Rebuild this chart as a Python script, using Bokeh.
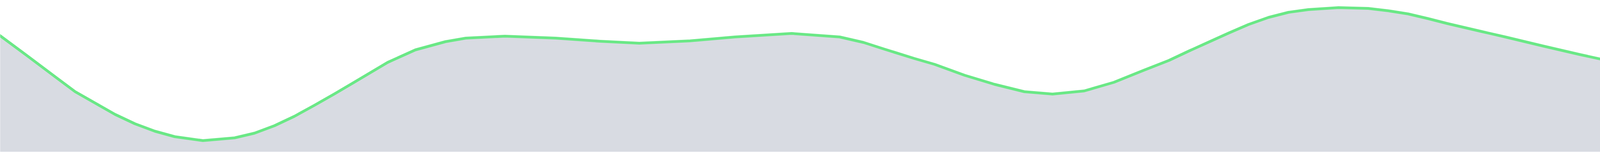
from bokeh.plotting import figure
from bokeh.models import Range1d
from bokeh.embed import file_html
from bokeh.resources import INLINE

# wave profile: x position and depth of the curve from the top edge
# (both in px of the 6004x404 canvas)
xs = [0, 77, 153, 200, 251, 302, 353, 404, 455, 527, 608, 659, 710, 761, 812,
      863, 914, 1000, 1071, 1148, 1200, 1300, 1430, 1544, 1644, 1774, 1889,
      2034, 2157, 2218, 2271, 2348, 2400, 2477, 2553, 2630, 2702, 2783, 2859,
      2936, 3000, 3051, 3102, 3153, 3204, 3255, 3306, 3357, 3434, 3510, 3561,
      3612, 3663, 3714, 3800, 3861, 3957, 4052, 4148, 4244, 4339, 4435, 4500,
      4596, 4740, 4884, 5075, 5267, 5459, 5651, 5843, 6004]
depth = [93, 150, 207, 242, 271, 300, 324, 343, 357, 367, 360, 348, 329, 305, 277,
         248, 218, 167, 135, 114, 105, 100, 105, 113, 118, 112, 102,
         93, 102, 116, 133, 157, 172, 200, 223, 242, 248, 240, 218,
         187, 162, 138, 115, 92, 70, 52, 39, 32, 27, 29, 35,
         43, 55, 68, 88, 102, 125, 147, 168, 188, 207, 220, 226,
         231, 235, 236, 237, 240, 249, 267, 287, 306]
canvas_h = 404
heights = [canvas_h - d for d in depth]

FILL = "#d8dbe2"
LINE = "#6ae886"

p = figure(width=5988, height=388, output_backend="svg", toolbar_location=None,
           x_range=Range1d(8, 5996), y_range=Range1d(8, 396),
           x_axis_location=None, y_axis_location=None, min_border=0)
p.grid.visible = False
p.outline_line_color = None
p.background_fill_color = "white"
p.border_fill_color = "white"

p.varea(x=xs, y1=0, y2=heights, fill_color=FILL)
p.line(xs, heights, line_color=LINE, line_width=7, line_join="round")

open("out.html", "w").write(file_html(p, INLINE))
